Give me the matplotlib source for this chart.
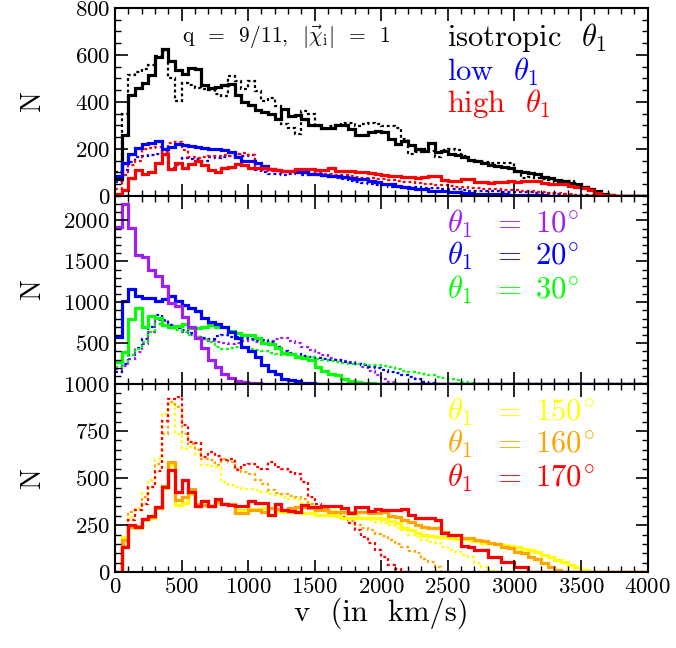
import numpy as np
import matplotlib
matplotlib.use("Agg")
import matplotlib.pyplot as plt
from matplotlib.ticker import MultipleLocator

plt.rcParams['font.family'] = ['cmr10', 'DejaVu Serif']
plt.rcParams['mathtext.fontset'] = 'cm'
plt.rcParams['axes.formatter.use_mathtext'] = True

BIN = 50
NBINS = 80
edges = np.arange(NBINS + 1) * BIN

# ---- top panel: q = 9/11, isotropic / low / high theta_1 ----
iso_solid = [70, 260, 430, 460, 480, 515, 590, 625, 575, 535,
             520, 545, 540, 470, 460, 465, 470, 475, 430, 400,
             385, 365, 355, 350, 325, 370, 340, 345, 325, 300,
             300, 290, 290, 300, 300, 285, 260, 260, 270, 275,
             270, 240, 222, 235, 215, 200, 192, 225, 188, 190,
             180, 175, 165, 152, 150, 138, 132, 128, 122, 118,
             108, 102, 98, 92, 82, 78, 68, 62, 56, 50,
             40, 30, 20, 10, 3]
iso_dot = [100, 350, 515, 525, 540, 555, 595, 615, 500, 405,
           480, 470, 460, 455, 450, 432, 425, 510, 490, 455,
           488, 446, 403, 417, 382, 305, 290, 262, 360, 347,
           298, 283, 298, 300, 312, 310, 298, 305, 312, 305,
           298, 298, 290, 240, 180, 185, 200, 190, 165, 195,
           200, 195, 170, 150, 150, 145, 140, 140, 142, 140,
           100, 75, 80, 78, 72, 68, 60, 62, 65, 45,
           40, 25, 15, 6]
low_solid = [85, 140, 180, 205, 220, 225, 235, 200, 210, 220,
             215, 212, 210, 205, 200, 198, 195, 185, 165, 150,
             150, 140, 128, 115, 112, 108, 105, 100, 100, 95,
             93, 90, 86, 85, 80, 78, 72, 72, 62, 60,
             52, 50, 42, 40, 35, 30, 28, 23, 22, 20,
             16, 15, 14, 11, 10, 9, 8, 8, 7, 6,
             5, 4, 3, 2, 2, 1]
low_dot = [60, 110, 145, 165, 170, 175, 180, 185, 120, 130,
           160, 155, 155, 150, 165, 160, 165, 170, 180, 170,
           175, 110, 100, 95, 92, 90, 95, 100, 90, 92,
           88, 85, 82, 78, 70, 65, 60, 55, 50, 48,
           45, 40, 40, 38, 38, 36, 35, 33, 32, 30,
           30, 28, 26, 22, 22, 21, 20, 19, 18, 18,
           17, 16, 15, 14, 14, 12, 10, 8, 6, 4,
           2, 1]
high_solid = [10, 25, 75, 110, 95, 100, 140, 178, 115, 140,
              120, 135, 150, 130, 110, 100, 120, 122, 135, 130,
              120, 120, 120, 115, 112, 108, 106, 114, 113, 114,
              110, 112, 118, 107, 106, 104, 100, 100, 96, 93,
              88, 86, 86, 82, 79, 78, 80, 86, 85, 66,
              64, 65, 72, 72, 60, 58, 57, 60, 61, 62,
              60, 64, 65, 65, 55, 52, 50, 50, 42, 36,
              35, 24, 14, 6, 3]
high_dot = [30, 90, 130, 150, 200, 205, 210, 185, 225, 230,
            195, 165, 160, 165, 170, 170, 172, 168, 178, 182,
            175, 120, 110, 105, 105, 100, 100, 100, 98, 95,
            97, 95, 92, 90, 88, 85, 80, 78, 75, 72,
            70, 66, 62, 60, 58, 55, 52, 50, 48, 45,
            42, 40, 38, 35, 32, 30, 28, 28, 26, 25,
            24, 22, 20, 18, 16, 14, 12, 10, 8, 6,
            4, 2]

# ---- middle panel: theta_1 = 10, 20, 30 deg ----
t10_solid = [1920, 2200, 1910, 1580, 1550, 1400, 1320, 1200, 990, 950,
             825, 700, 560, 435, 290, 205, 125, 70, 40, 20,
             12, 8, 5, 3, 2, 1]
t10_dot = [185, 225, 310, 390, 495, 640, 785, 765, 720, 690,
           640, 600, 575, 550, 530, 515, 500, 495, 500, 530,
           540, 520, 515, 530, 545, 560, 530, 500, 450, 420,
           380, 360, 320, 300, 280, 265, 250, 210, 160, 110,
           60, 20]
t20_solid = [580, 1020, 1160, 1075, 1055, 1050, 1020, 1040, 1075, 1010,
             970, 930, 890, 805, 760, 740, 700, 640, 560, 455,
             410, 330, 230, 165, 125, 65, 45, 40, 15, 8,
             4, 2]
t20_dot = [145, 245, 350, 435, 555, 700, 845, 785, 720, 690,
           660, 620, 577, 560, 555, 590, 600, 580, 575, 560,
           555, 540, 535, 520, 450, 410, 380, 370, 340, 330,
           315, 310, 300, 290, 275, 260, 245, 230, 210, 195,
           170, 150, 130, 110, 85, 60, 30, 10]
t30_solid = [270, 390, 800, 930, 700, 835, 805, 720, 700, 705,
             740, 690, 680, 700, 720, 700, 700, 650, 630, 605,
             600, 560, 500, 490, 435, 375, 370, 330, 320, 290,
             210, 165, 125, 110, 62, 40, 25, 18, 10, 5,
             2]
t30_dot = [205, 265, 350, 430, 515, 640, 740, 710, 700, 660,
           640, 600, 577, 540, 515, 450, 433, 435, 450, 455,
           430, 415, 400, 375, 370, 360, 355, 340, 335, 330,
           310, 295, 285, 270, 260, 250, 245, 240, 235, 230,
           220, 205, 190, 165, 150, 135, 125, 105, 90, 75,
           60, 45, 30, 15]

# ---- bottom panel: theta_1 = 150, 160, 170 deg ----
t150_solid = [0, 185, 242, 233, 277, 286, 340, 450, 568, 356,
              370, 415, 360, 356, 350, 370, 360, 360, 330, 330,
              335, 338, 339, 339, 325, 321, 320, 318, 312, 312,
              303, 303, 303, 300, 290, 288, 286, 286, 286, 286,
              284, 270, 259, 235, 224, 210, 198, 192, 189, 185,
              180, 178, 175, 171, 165, 155, 153, 148, 145, 140,
              136, 125, 118, 105, 92, 80, 65, 52, 39, 25,
              12]
t150_dot = [0, 180, 295, 340, 420, 490, 600, 840, 895, 735,
            656, 665, 630, 570, 565, 559, 480, 462, 455, 444,
            440, 436, 425, 418, 410, 400, 390, 383, 370, 365,
            340, 330, 330, 328, 315, 303, 300, 290, 275, 265,
            259, 250, 235, 224, 200, 189, 170, 160, 153, 135,
            118, 105, 90, 83, 50, 30, 12]
t160_solid = [0, 170, 242, 245, 285, 295, 340, 460, 585, 385,
              400, 440, 360, 355, 352, 375, 365, 360, 312, 312,
              330, 332, 321, 340, 335, 330, 340, 347, 347, 340,
              333, 330, 321, 322, 320, 318, 321, 321, 315, 312,
              321, 300, 295, 275, 268, 250, 242, 235, 233, 215,
              198, 195, 182, 180, 171, 165, 153, 150, 136, 130,
              109, 100, 83, 70, 48, 30, 12]
t160_dot = [0, 140, 320, 330, 400, 453, 577, 735, 903, 880,
            735, 683, 647, 603, 594, 568, 603, 586, 550, 533,
            524, 489, 471, 436, 420, 418, 405, 400, 390, 365,
            345, 339, 312, 305, 286, 270, 250, 235, 224, 205,
            190, 171, 150, 136, 115, 100, 70, 56, 25]
t170_solid = [0, 135, 250, 240, 285, 300, 345, 455, 545, 425,
              490, 425, 350, 380, 350, 390, 360, 355, 350, 350,
              380, 370, 368, 303, 365, 330, 325, 320, 355, 345,
              345, 350, 350, 350, 342, 312, 347, 345, 325, 338,
              330, 330, 330, 338, 303, 286, 286, 286, 277, 206,
              198, 198, 140, 132, 118, 118, 83, 83, 56, 56,
              30, 30]
t170_dot = [0, 150, 280, 330, 365, 453, 540, 806, 921, 930,
            780, 690, 685, 612, 638, 620, 594, 603, 541, 568,
            577, 559, 550, 586, 559, 550, 533, 524, 480, 400,
            365, 347, 321, 300, 295, 259, 224, 189, 153, 118,
            83, 40, 15]


def full(vals):
    # counts beyond the last listed bin are zero
    v = np.asarray(vals, dtype=float)
    return np.concatenate([v, np.zeros(NBINS - len(v))])


PURPLE = '#a020f0'
GREEN = '#00ff00'
YELLOW = '#ffff00'
ORANGE = '#ffa500'
DOT = (0, (1.3, 1.3))
LW_S = 2.3
LW_D = 1.6

fig = plt.figure(figsize=(6.76, 6.48), dpi=100)
gs = fig.add_gridspec(3, 1, left=0.170, right=0.958, bottom=0.117, top=0.988,
                      hspace=0)
axes = [fig.add_subplot(gs[i]) for i in range(3)]

panels = [
    [(iso_dot, 'k', DOT), (low_dot, 'b', DOT), (high_dot, 'r', DOT),
     (iso_solid, 'k', '-'), (low_solid, 'b', '-'), (high_solid, 'r', '-')],
    [(t10_dot, PURPLE, DOT), (t20_dot, 'b', DOT), (t30_dot, GREEN, DOT),
     (t30_solid, GREEN, '-'), (t20_solid, 'b', '-'), (t10_solid, PURPLE, '-')],
    [(t150_dot, YELLOW, DOT), (t160_dot, ORANGE, DOT), (t170_dot, 'r', DOT),
     (t150_solid, YELLOW, '-'), (t160_solid, ORANGE, '-'), (t170_solid, 'r', '-')],
]

for ax, series in zip(axes, panels):
    for vals, col, ls in series:
        ax.stairs(full(vals), edges, color=col, linestyle=ls,
                  linewidth=LW_S if ls == '-' else LW_D, baseline=None)
    ax.set_xlim(0, 4000)
    ax.xaxis.set_major_locator(MultipleLocator(500))
    ax.xaxis.set_minor_locator(MultipleLocator(100))
    ax.tick_params(which='both', direction='in', top=True, right=True,
                   labelsize=16.5)
    ax.tick_params(which='major', length=9, width=1.2)
    ax.tick_params(which='minor', length=4.5, width=1.0)
    for s in ax.spines.values():
        s.set_linewidth(1.5)
    ax.set_ylabel('N', fontsize=20)
    ax.yaxis.set_label_coords(-0.13, 0.5)

axes[0].set_ylim(0, 800)
axes[0].yaxis.set_major_locator(MultipleLocator(200))
axes[0].yaxis.set_minor_locator(MultipleLocator(50))

axes[1].set_ylim(0, 2300)
axes[1].set_yticks([500, 1000, 1500, 2000])
axes[1].yaxis.set_minor_locator(MultipleLocator(100))

axes[2].set_ylim(0, 1000)
axes[2].yaxis.set_major_locator(MultipleLocator(250))
axes[2].yaxis.set_minor_locator(MultipleLocator(50))

for ax in axes[:2]:
    ax.tick_params(labelbottom=False)

axes[2].set_xlabel('v  (in  km/s)', fontsize=22, labelpad=0)

tx = 0.623
axes[0].text(0.125, 0.845, r'q  =  9/11,  $|\vec{\chi}_{\rm i}|$  =  1',
             transform=axes[0].transAxes, fontsize=15.5, va='center')
axes[0].text(tx, 0.84, r'isotropic  $\theta_1$', color='k', fontsize=22,
             transform=axes[0].transAxes, va='center')
axes[0].text(tx, 0.66, r'low  $\theta_1$', color='b', fontsize=22,
             transform=axes[0].transAxes, va='center')
axes[0].text(tx, 0.49, r'high  $\theta_1$', color='r', fontsize=22,
             transform=axes[0].transAxes, va='center')

for ax, labels, cols in [
        (axes[1], ['10', '20', '30'], [PURPLE, 'b', GREEN]),
        (axes[2], ['150', '160', '170'], [YELLOW, ORANGE, 'r'])]:
    for y, lab, col in zip([0.85, 0.68, 0.50], labels, cols):
        ax.text(tx, y, r'$\theta_1\ \ =\ ' + lab + r'^{\!\circ}$', color=col,
                fontsize=22, transform=ax.transAxes, va='center')

fig.savefig('out.png', dpi=100)
